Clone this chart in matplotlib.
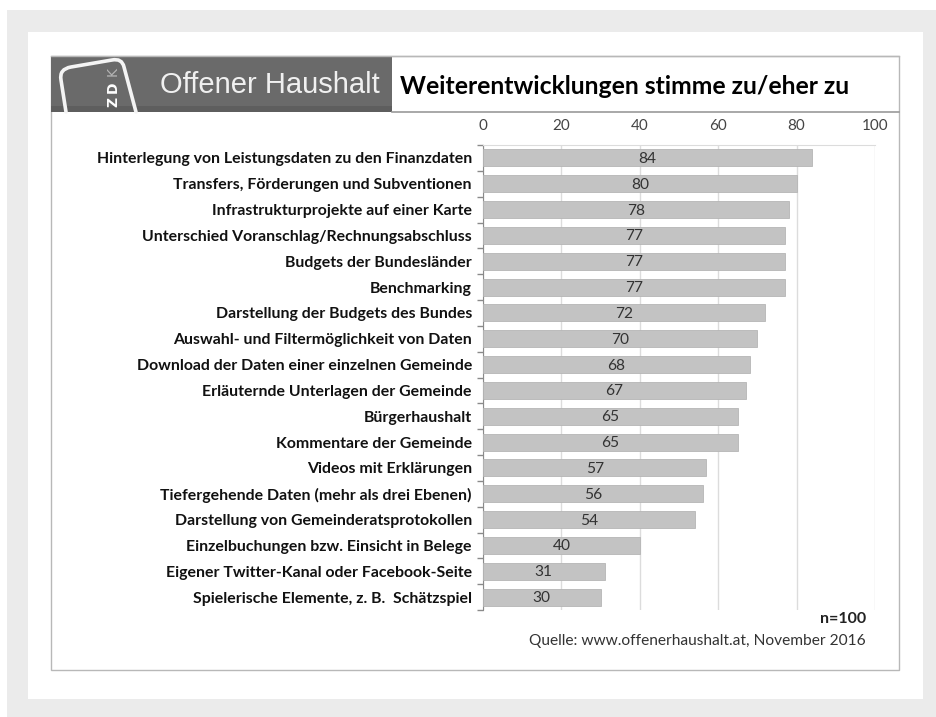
import matplotlib
matplotlib.use('Agg')
import matplotlib.pyplot as plt
from matplotlib.patches import Rectangle
from matplotlib.path import Path
from matplotlib.patches import PathPatch
import numpy as np

W, H = 937, 717

CATEGORIES = [
    'Hinterlegung von Leistungsdaten zu den Finanzdaten',
    'Transfers, Förderungen und Subventionen',
    'Infrastrukturprojekte auf einer Karte',
    'Unterschied Voranschlag/Rechnungsabschluss',
    'Budgets der Bundesländer',
    'Benchmarking',
    'Darstellung der Budgets des Bundes',
    'Auswahl- und Filtermöglichkeit von Daten',
    'Download der Daten einer einzelnen Gemeinde',
    'Erläuternde Unterlagen der Gemeinde',
    'Bürgerhaushalt',
    'Kommentare der Gemeinde',
    'Videos mit Erklärungen',
    'Tiefergehende Daten (mehr als drei Ebenen)',
    'Darstellung von Gemeinderatsprotokollen',
    'Einzelbuchungen bzw. Einsicht in Belege',
    'Eigener Twitter-Kanal oder Facebook-Seite',
    'Spielerische Elemente, z. B.  Schätzspiel',
]
VALUES = [84, 80, 78, 77, 77, 77, 72, 70, 68, 67, 65, 65, 57, 56, 54, 40, 31, 30]
X_TICKS = [0, 20, 40, 60, 80, 100]

TITLE_LEFT = 'Offener Haushalt'
TITLE_RIGHT = 'Weiterentwicklungen stimme zu/eher zu'
NOTE_N = 'n=100'
SOURCE = 'Quelle: www.offenerhaushalt.at, November 2016'

FONT = 'Lato'

fig = plt.figure(figsize=(W / 100, H / 100), dpi=100)
fig.patch.set_facecolor('white')

# background layer in pixel coordinates
bg = fig.add_axes([0, 0, 1, 1])
bg.set_xlim(0, W)
bg.set_ylim(H, 0)
bg.set_axis_off()

bg.add_patch(Rectangle((7, 10), W - 7, H - 10, facecolor='#ebebeb', edgecolor='none'))
bg.add_patch(Rectangle((28, 32), 895, 667, facecolor='white', edgecolor='none'))
# shadow + inner frame
bg.add_patch(Rectangle((52, 57), 848, 614, facecolor='#d0d0d0', edgecolor='none'))
bg.add_patch(Rectangle((51, 56), 848, 614, facecolor='white', edgecolor='#b8b8b8', linewidth=1))

# header
bg.add_patch(Rectangle((51, 56), 341, 56, facecolor='#6a6a6a', edgecolor='none'))
bg.add_patch(Rectangle((51, 106), 341, 6, facecolor='#5e5e5e', edgecolor='none'))
bg.plot([392, 899], [112, 112], color='#9a9a9a', linewidth=1.2)
bg.plot([51, 899], [56, 56], color='#b8b8b8', linewidth=1)

# logo outline
verts = [(66, 112), (61, 80), (59, 69), (71, 67), (112, 60), (122, 58), (124, 67), (136, 112)]
codes = [Path.MOVETO, Path.LINETO, Path.CURVE3, Path.CURVE3, Path.LINETO, Path.CURVE3, Path.CURVE3, Path.LINETO]
bg.add_patch(PathPatch(Path(verts, codes), facecolor='none', edgecolor='#f4f4f4', linewidth=2.6,
                       capstyle='round', joinstyle='round'))
bg.text(113, 72, 'K', fontsize=10, color='#b4b4b4', family='DejaVu Sans', ha='center', va='center', rotation=90)
bg.text(113, 87, 'D', fontsize=10, color='white', family='DejaVu Sans', fontweight='bold',
        ha='center', va='center', rotation=90)
bg.text(113, 102, 'Z', fontsize=10, color='white', family='DejaVu Sans', fontweight='bold',
        ha='center', va='center', rotation=90)

bg.text(160, 85, TITLE_LEFT, fontsize=21, color='#f0f0f0', family='Liberation Sans',
        ha='left', va='center')
bg.text(400, 86, TITLE_RIGHT, fontsize=17.8, color='black', family=FONT, fontweight='bold',
        ha='left', va='center')

bg.text(866, 619, NOTE_N, fontsize=11.5, color='#222', family=FONT, fontweight='bold',
        ha='right', va='center')
bg.text(866, 641, SOURCE, fontsize=11.2, color='#333', family=FONT, ha='right', va='center')

# bar chart
x0, x1 = 483, 875
y0, y1 = 145, 610
ax = fig.add_axes([x0 / W, 1 - y1 / H, (x1 - x0) / W, (y1 - y0) / H])
ax.set_facecolor('none')
pos = np.arange(len(CATEGORIES))
ax.barh(pos, VALUES, height=0.66, color='#c3c3c3', edgecolor='#b5b5b5', linewidth=0.6, zorder=3)
for p, v in zip(pos, VALUES):
    ax.text(v / 2, p + 0.04, str(v), ha='center', va='center', fontsize=11.2, color='#333',
            family=FONT, zorder=4)

ax.set_xlim(0, 100)
ax.set_ylim(len(CATEGORIES) - 0.5, -0.5)
ax.set_xticks(X_TICKS)
ax.xaxis.tick_top()
ax.tick_params(axis='x', length=0, pad=9, labelsize=11, labelcolor='#444')
for lab in ax.get_xticklabels():
    lab.set_family(FONT)
ax.grid(axis='x', color='#dcdcdc', linewidth=1, zorder=0)

ax.set_yticks(pos)
ax.set_yticklabels(CATEGORIES)
ax.tick_params(axis='y', length=0, pad=8, labelsize=11.4, labelcolor='#111')
for lab in ax.get_yticklabels():
    lab.set_family(FONT)
    lab.set_fontweight('bold')
ax.set_yticks(np.arange(len(CATEGORIES) + 1) - 0.5, minor=True)
ax.tick_params(axis='y', which='minor', length=4, color='#8a8a8a', width=1)

for s in ['right', 'bottom']:
    ax.spines[s].set_visible(False)
ax.spines['left'].set_color('#8a8a8a')
ax.spines['top'].set_color('#dcdcdc')

fig.savefig('out.png', dpi=100, facecolor='white')
